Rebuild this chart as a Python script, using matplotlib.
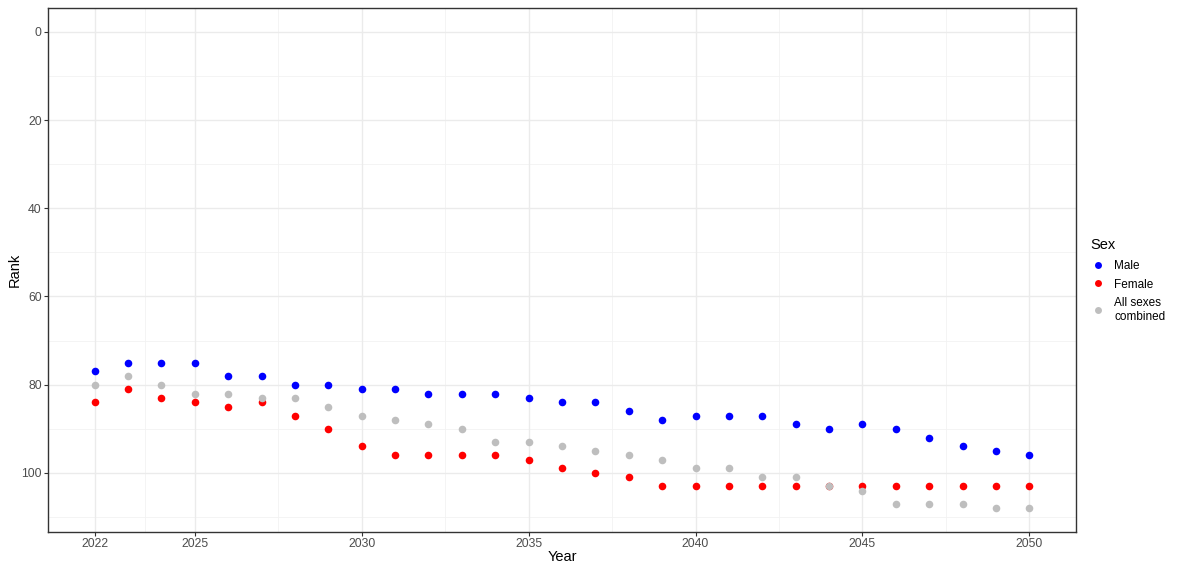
import matplotlib
matplotlib.use("Agg")
import matplotlib.pyplot as plt
from matplotlib.lines import Line2D

plt.rcParams['font.family'] = ['Liberation Sans', 'DejaVu Sans']

years = list(range(2022, 2051))
male = [77, 75, 75, 75, 78, 78, 80, 80, 81, 81, 82, 82, 82, 83, 84, 84, 86, 88,
        87, 87, 87, 89, 90, 89, 90, 92, 94, 95, 96]
female = [84, 81, 83, 84, 85, 84, 87, 90, 94, 96, 96, 96, 96, 97, 99, 100, 101, 103,
          103, 103, 103, 103, 103, 103, 103, 103, 103, 103, 103]
all_sexes = [80, 78, 80, 82, 82, 83, 83, 85, 87, 88, 89, 90, 93, 93, 94, 95, 96, 97,
             99, 99, 101, 101, 103, 104, 107, 107, 107, 108, 108]

series_names = ["Male", "Female", "All sexes\ncombined"]
series_colors = ["#0000FF", "#FF0000", "#BEBEBE"]
x_ticks = [2022, 2025, 2030, 2035, 2040, 2045, 2050]
x_minor = [2023.5, 2027.5, 2032.5, 2037.5, 2042.5, 2047.5]
y_ticks = [0, 20, 40, 60, 80, 100]
y_minor = [10, 30, 50, 70, 90, 110]

fig = plt.figure(figsize=(11.79, 5.68), dpi=100)
ax = fig.add_axes([48/1179, 1 - 532/568, (1076-48)/1179, (532-8)/568])

for xm in x_minor:
    ax.axvline(xm, color="#F2F2F2", lw=0.6, zorder=0)
for ym in y_minor:
    ax.axhline(ym, color="#F2F2F2", lw=0.6, zorder=0)
for xm in x_ticks:
    ax.axvline(xm, color="#EBEBEB", lw=1.0, zorder=0)
for ym in y_ticks:
    ax.axhline(ym, color="#EBEBEB", lw=1.0, zorder=0)

for vals, name, col in zip([male, female, all_sexes], series_names, series_colors):
    ax.scatter(years, vals, s=30, color=col, linewidths=0, zorder=3, label=name)

ax.set_xlim(2022 - 1.4, 2050 + 1.4)
ax.set_ylim(113.4, -5.4)
ax.set_xticks(x_ticks)
ax.set_yticks(y_ticks)
ax.tick_params(axis='both', colors="#333333", labelcolor="#4D4D4D", labelsize=8.8,
               length=3, width=0.8, pad=1.5)
for sp in ax.spines.values():
    sp.set_color("#333333")
    sp.set_linewidth(1.0)

ax.set_xlabel("Year", fontsize=10.5, color="black", labelpad=0)
ax.set_ylabel("Rank", fontsize=10.5, color="black")
ax.yaxis.set_label_coords(-26/1028, 0.5)

handles = [Line2D([0], [0], marker='o', linestyle='', markersize=5,
                  markerfacecolor=c, markeredgewidth=0, label=n)
           for n, c in zip(series_names, series_colors)]
leg = fig.legend(handles=handles, title="Sex", loc="upper left",
                 bbox_to_anchor=(1086/1179, 1 - 233/568), frameon=False,
                 fontsize=8.5, title_fontsize=10.5, handletextpad=0.8,
                 labelspacing=0.55, handlelength=1.2, borderaxespad=0)
leg._legend_box.align = "left"
leg._legend_box.sep = 6

fig.savefig("out.png", dpi=100)
